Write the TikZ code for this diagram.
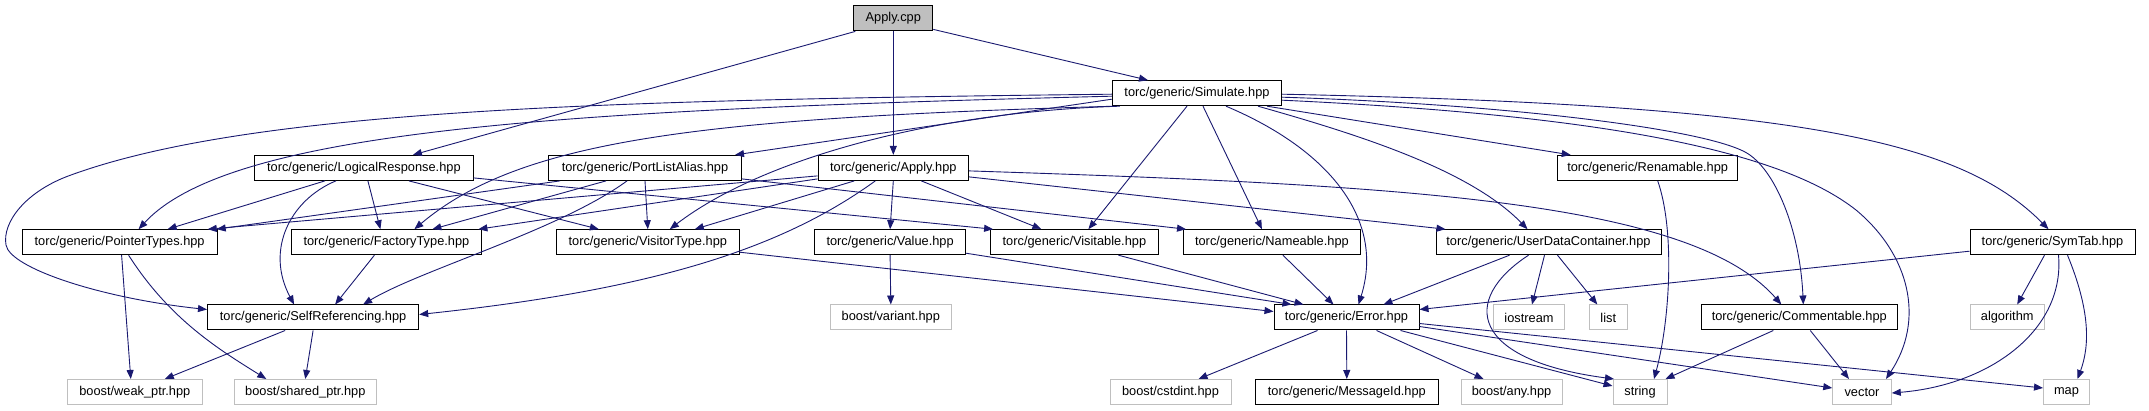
\documentclass[tikz,border=0pt]{standalone}
\usepackage{fontspec}
\setmainfont{Liberation Sans}
\usetikzlibrary{arrows.meta}
\definecolor{edgeblue}{HTML}{191970}
\definecolor{sysgray}{HTML}{BFBFBF}
\tikzset{
  hdr/.style={draw=black, line width=1pt, fill=white, inner sep=0pt, minimum height=25pt,
    font=\fontsize{12.8pt}{14pt}\selectfont},
  sys/.style={hdr, draw=sysgray},
  src/.style={hdr, fill=sysgray},
  edge/.style={draw=edgeblue, line width=0.9pt, -{Triangle[length=9pt,width=7pt]}, fill=none},
}
\begin{document}
\begin{tikzpicture}[x=1pt,y=-1pt]
\useasboundingbox (0,0) rectangle (2149,411);
% row 0
\node[src, minimum width=79pt] (applycpp) at (893.3,18.4) {Apply.cpp};
% row 1
\node[hdr, minimum width=169.4pt] (simulate) at (1197,93.2) {torc/generic/Simulate.hpp};
% row 2
\node[hdr, minimum width=218.2pt] (logical) at (363.9,167.9) {torc/generic/LogicalResponse.hpp};
\node[hdr, minimum width=192.6pt] (portlist) at (645,167.9) {torc/generic/PortListAlias.hpp};
\node[hdr, minimum width=150.6pt] (applyhpp) at (893.3,167.9) {torc/generic/Apply.hpp};
\node[hdr, minimum width=180pt] (renamable) at (1647.7,167.9) {torc/generic/Renamable.hpp};
% row 3
\node[hdr, minimum width=195.2pt] (pointer) at (119.6,242.2) {torc/generic/PointerTypes.hpp};
\node[hdr, minimum width=189.7pt] (factory) at (386.4,242.2) {torc/generic/FactoryType.hpp};
\node[hdr, minimum width=182.5pt] (visitor) at (647.8,242.2) {torc/generic/VisitorType.hpp};
\node[hdr, minimum width=150.6pt] (value) at (890.1,242.2) {torc/generic/Value.hpp};
\node[hdr, minimum width=167.6pt] (visitable) at (1074.4,242.2) {torc/generic/Visitable.hpp};
\node[hdr, minimum width=176.7pt] (nameable) at (1271.9,242.2) {torc/generic/Nameable.hpp};
\node[hdr, minimum width=225pt] (udc) at (1548.5,242.2) {torc/generic/UserDataContainer.hpp};
\node[hdr, minimum width=165pt] (symtab) at (2052.5,242.2) {torc/generic/SymTab.hpp};
% row 4
\node[hdr, minimum width=211.2pt] (selfref) at (313.1,317.5) {torc/generic/SelfReferencing.hpp};
\node[sys, minimum width=121.6pt] (variant) at (890.8,317.5) {boost/variant.hpp};
\node[hdr, minimum width=145pt] (error) at (1346.5,317.5) {torc/generic/Error.hpp};
\node[sys, minimum width=71pt] (iostream) at (1529,317.5) {iostream};
\node[sys, minimum width=38.5pt] (list) at (1608.3,317.5) {list};
\node[hdr, minimum width=196.5pt] (commentable) at (1799.3,317.5) {torc/generic/Commentable.hpp};
\node[sys, minimum width=74.4pt] (algorithm) at (2007.2,317.5) {algorithm};
% row 5
\node[sys, minimum width=134.5pt] (weak) at (134.8,392) {boost/weak\_ptr.hpp};
\node[sys, minimum width=142.5pt] (shared) at (305.3,392) {boost/shared\_ptr.hpp};
\node[sys, minimum width=121pt] (cstdint) at (1170.5,392) {boost/cstdint.hpp};
\node[hdr, minimum width=182.4pt] (messageid) at (1346.8,392) {torc/generic/MessageId.hpp};
\node[sys, minimum width=101pt] (any) at (1511.5,392) {boost/any.hpp};
\node[sys, minimum width=54pt] (string) at (1640,392) {string};
\node[sys, minimum width=58.5pt] (vector) at (1862,392) {vector};
\node[sys, minimum width=46pt] (map) at (2066.5,392) {map};

% Apply.cpp
\draw[edge] ([xshift=2pt]applycpp.south west) -- ([xshift=49pt]logical.north);
\draw[edge] (applycpp.south) -- (applyhpp.north);
\draw[edge] ([yshift=2pt]applycpp.south east) -- ([xshift=-49pt]simulate.north);

% Simulate.hpp
\draw[edge] ([yshift=-3pt]simulate.west) .. controls (560,110) and (230,130) .. ([xshift=19pt]pointer.north);
\draw[edge] ([yshift=-1pt]simulate.west) .. controls (600,100) and (250,110) .. (71,175)
   .. controls (26,191) and (2,222) .. (6,245) .. controls (10,268) and (100,298) .. ([yshift=8pt]selfref.west);
\draw[edge] ([xshift=3pt]simulate.south west) .. controls (700,118) and (520,140) .. ([xshift=28pt]factory.north);
\draw[edge] ([xshift=8pt]simulate.south west) .. controls (930,112) and (760,160) .. ([xshift=22pt]visitor.north);
\draw[edge] ([yshift=-6pt]simulate.west) -- ([xshift=90pt]portlist.north);
\draw[edge] ([xshift=-10pt]simulate.south) -- ([xshift=14pt]visitable.north);
\draw[edge] ([xshift=6pt]simulate.south) -- ([xshift=-10pt]nameable.north);
\draw[edge] ([xshift=29pt]simulate.south) .. controls (1330,150) and (1385,220) .. ([xshift=12pt]error.north);
\draw[edge] ([xshift=61pt]simulate.south) .. controls (1360,135) and (1470,170) .. ([xshift=-21pt]udc.north);
\draw[edge] ([xshift=70pt]simulate.south) -- ([xshift=-77pt]renamable.north);
\draw[edge] ([yshift=-4pt]simulate.east) .. controls (1500,104) and (1700,128) .. (1745,152)
   .. controls (1775,168) and (1800,230) .. ([xshift=4pt]commentable.north);
\draw[edge] ([yshift=-7pt]simulate.east) .. controls (1600,115) and (1780,150) .. (1856,210)
   .. controls (1910,255) and (1925,320) .. ([xshift=24pt]vector.north);
\draw[edge] ([yshift=-1pt]simulate.east) .. controls (1800,105) and (1960,140) .. ([xshift=-4pt]symtab.north);

% Apply.hpp
\draw[edge] ([yshift=-8pt]applyhpp.west) -- ([xshift=-10pt]pointer.north east);
\draw[edge] ([yshift=-11pt]applyhpp.west) -- ([xshift=92pt]factory.north);
\draw[edge] ([xshift=-39pt]applyhpp.south) -- ([xshift=47pt]visitor.north);
\draw[edge] ([xshift=-18pt]applyhpp.south) .. controls (780,250) and (650,290) .. ([yshift=3pt]selfref.east);
\draw[edge] (applyhpp.south) -- (value.north);
\draw[edge] ([xshift=28pt]applyhpp.south) -- ([xshift=-33pt]visitable.north);
\draw[edge] ([yshift=-9pt]applyhpp.east) -- ([xshift=-103pt]udc.north);
\draw[edge] ([yshift=-3pt]applyhpp.east) .. controls (1400,185) and (1690,200) .. ([xshift=-18pt]commentable.north);

% LogicalResponse.hpp
\draw[edge] ([xshift=-39pt]logical.south) -- ([xshift=48pt]pointer.north);
\draw[edge] ([xshift=-28pt]logical.south) .. controls (290,200) and (265,250) .. ([xshift=-19pt]selfref.north);
\draw[edge] ([xshift=4pt]logical.south) -- ([xshift=-6pt]factory.north);
\draw[edge] ([xshift=45pt]logical.south) -- ([xshift=-49pt]visitor.north);
\draw[edge] ([yshift=-10pt]logical.east) -- ([xshift=3pt]visitable.north west);

% PortListAlias.hpp
\draw[edge] ([xshift=-85pt]portlist.south) -- ([xshift=-1pt]pointer.north east);
\draw[edge] ([xshift=-39pt]portlist.south) -- ([xshift=46pt]factory.north);
\draw[edge] (portlist.south) -- (visitor.north);
\draw[edge] ([xshift=-18pt]portlist.south) .. controls (560,230) and (420,270) .. ([xshift=50pt]selfref.north);
\draw[edge] ([yshift=-11pt]portlist.east) -- ([xshift=3pt]nameable.north west);

% lower levels
\draw[edge] ([xshift=2pt]pointer.south) -- ([xshift=-4pt]weak.north);
\draw[edge] ([xshift=9pt]pointer.south) .. controls (170,320) and (220,350) .. ([xshift=-39pt]shared.north);
\draw[edge] ([xshift=-12pt]factory.south) -- ([xshift=22pt]selfref.north);
\draw[edge] ([yshift=-10pt]visitor.east) -- ([yshift=6pt]error.west);
\draw[edge] (value.south) -- (variant.north);
\draw[edge] ([yshift=-11pt]value.east) -- ([xshift=-55pt]error.north);
\draw[edge] ([xshift=44pt]visitable.south) -- ([xshift=-43pt]error.north);
\draw[edge] ([xshift=11pt]nameable.south) -- ([xshift=-13pt]error.north);
\draw[edge] ([xshift=-39pt]udc.south) -- ([xshift=37pt]error.north);
\draw[edge] ([xshift=-4pt]udc.south) -- ([xshift=3pt]iostream.north);
\draw[edge] ([xshift=9pt]udc.south) -- ([xshift=-11pt]list.north);
\draw[edge] ([xshift=-20pt]udc.south) .. controls (1460,300) and (1470,360) .. ([xshift=-26pt]string.north);
\draw[edge] ([yshift=-9pt]symtab.west) -- ([yshift=8pt]error.east);
\draw[edge] ([xshift=-8pt]symtab.south) -- ([xshift=10pt]algorithm.north);
\draw[edge] ([xshift=6pt]symtab.south) .. controls (2065,330) and (1990,385) .. ([yshift=-1pt]vector.east);
\draw[edge] ([xshift=15pt]symtab.south) .. controls (2090,310) and (2090,345) .. ([xshift=11pt]map.north);
\draw[edge] ([xshift=-26pt]commentable.south) -- ([xshift=-2pt]string.north east);
\draw[edge] ([xshift=11pt]commentable.south) -- ([xshift=-13pt]vector.north);
\draw[edge] ([xshift=-28pt]selfref.south) -- ([xshift=30pt]weak.north);
\draw[edge] (selfref.south) -- (shared.north);
\draw[edge] ([xshift=-29pt]error.south) -- ([xshift=28pt]cstdint.north);
\draw[edge] (error.south) -- (messageid.north);
\draw[edge] ([xshift=30pt]error.south) -- ([xshift=-28pt]any.north);
\draw[edge] ([xshift=54pt]error.south) -- ([yshift=6pt]string.west);
\draw[edge] ([yshift=-9pt]error.east) -- ([yshift=4pt]vector.west);
\draw[edge] ([yshift=-6pt]error.east) -- ([yshift=4pt]map.west);
\draw[edge] ([xshift=10pt]renamable.south) .. controls (1675,230) and (1670,320) .. ([xshift=14pt]string.north);
\end{tikzpicture}
\end{document}
